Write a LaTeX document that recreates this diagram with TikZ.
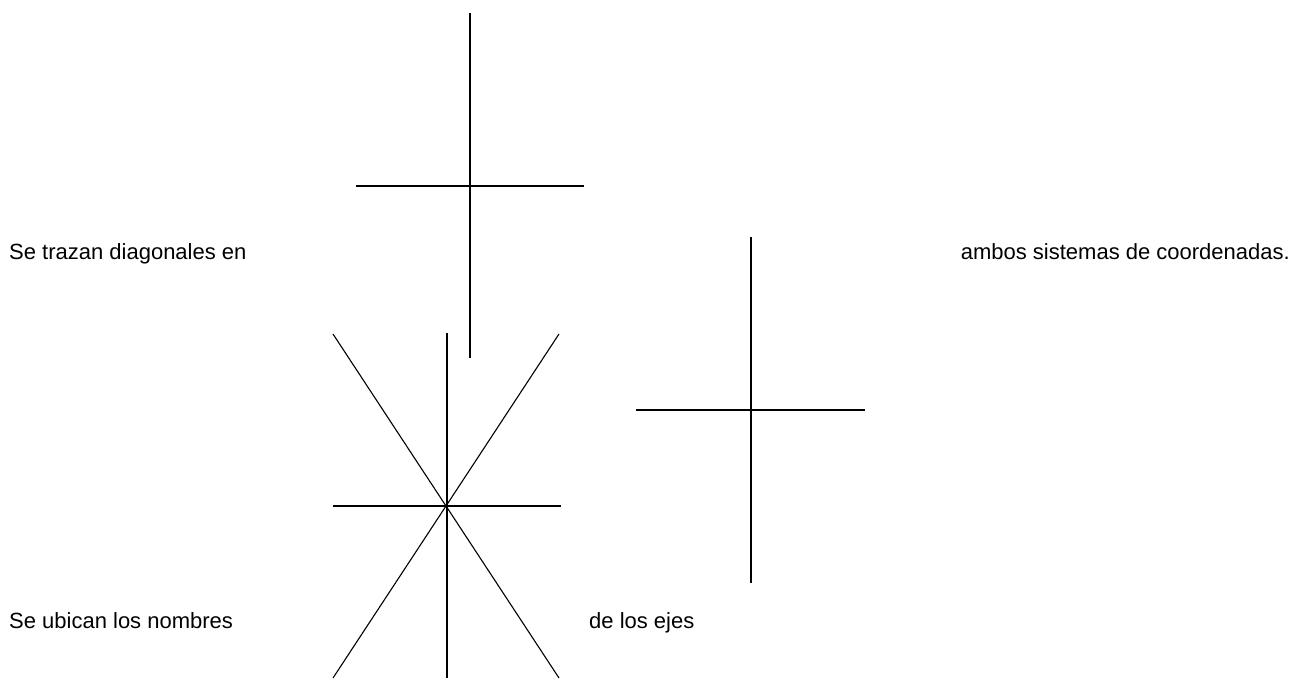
\documentclass[tikz,border=0pt]{standalone}
\usepackage{fontspec}
\setmainfont{Liberation Sans}
\begin{document}
\begin{tikzpicture}[x=1pt,y=-1pt,
  axis/.style={line width=2pt},
  diag/.style={line width=1.1pt},
  lbl/.style={anchor=base west,inner sep=0pt,font=\fontsize{22}{25}\selectfont}]
\useasboundingbox (0,0) rectangle (1302,678);
% cross 1
\draw[axis] (470,13) -- (470,358);
\draw[axis] (356,186) -- (584,186);
% cross 2
\draw[axis] (751,237) -- (751,583);
\draw[axis] (636,410) -- (865,410);
% star
\draw[axis] (446.5,333) -- (446.5,678);
\draw[axis] (333,506) -- (561,506);
\draw[diag] (333,334) -- (559,678);
\draw[diag] (559,334) -- (333,678);
% texts
\node[lbl] (t1) at (9,259) {Se trazan diagonales en};
\node[lbl,anchor=base east] (t2) at (1290,259) {ambos sistemas de coordenadas.};
\node[lbl] (t3) at (9,628) {Se ubican los nombres};
\node[lbl] (t4) at (589,628) {de los ejes};
\end{tikzpicture}
\end{document}
